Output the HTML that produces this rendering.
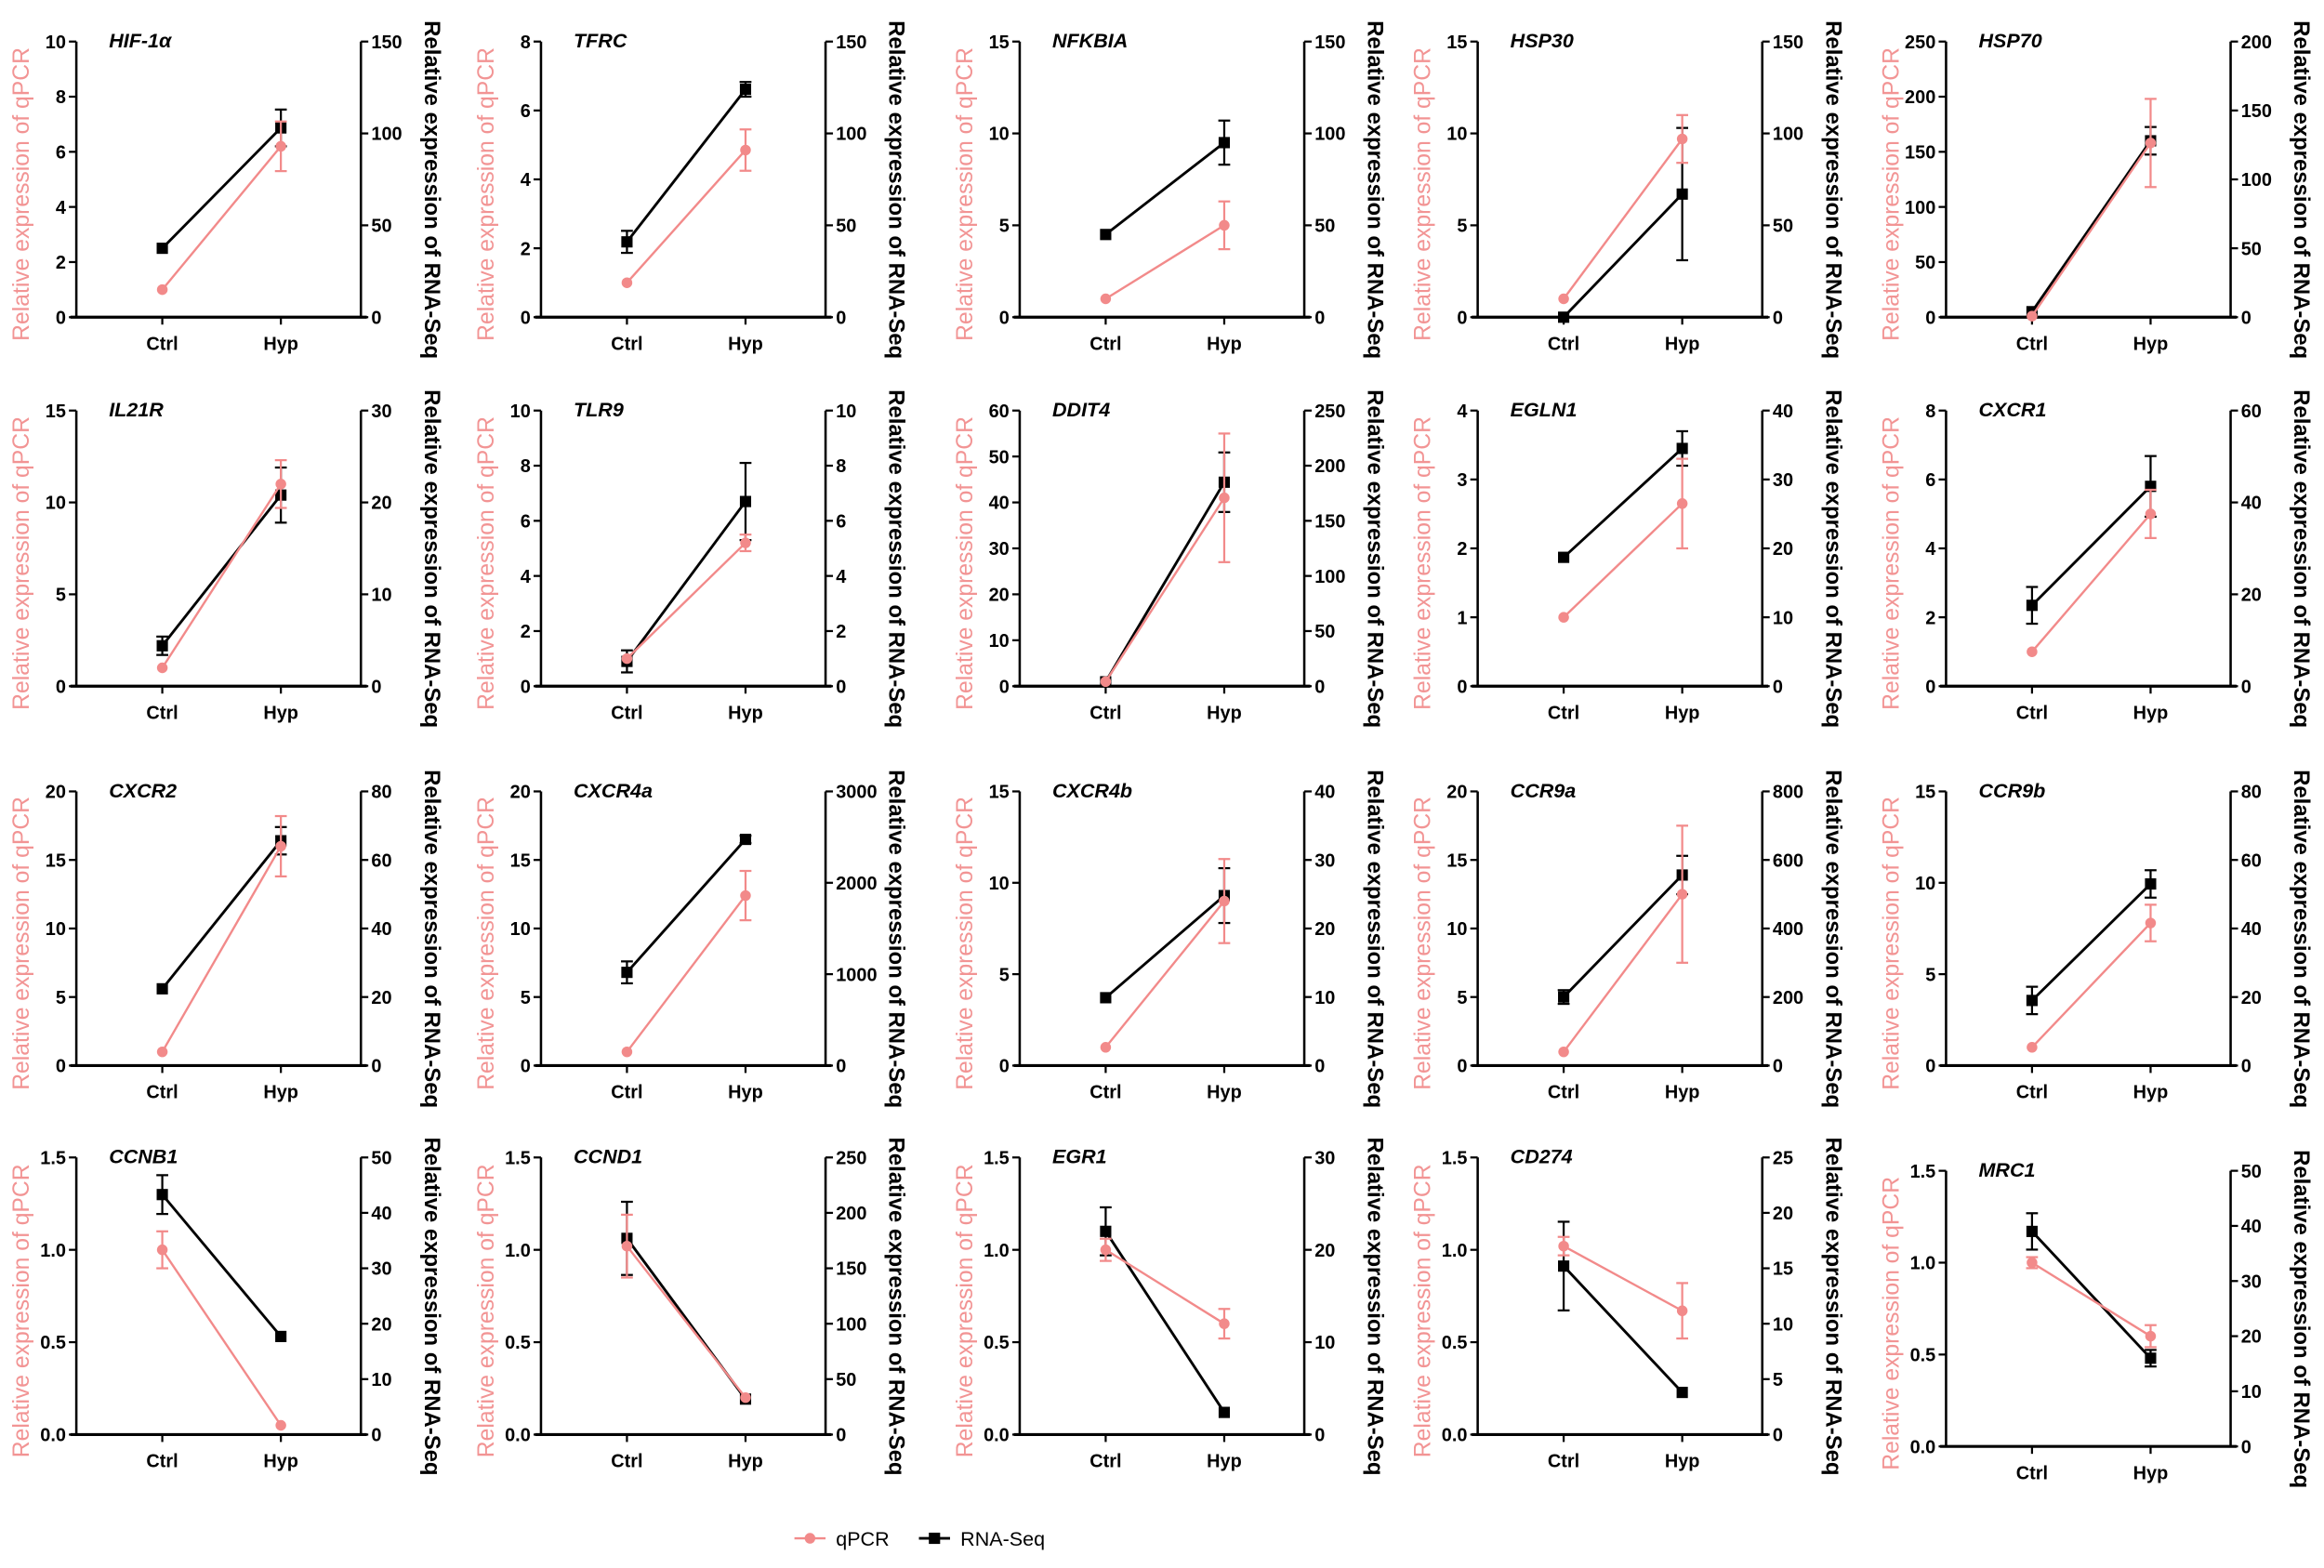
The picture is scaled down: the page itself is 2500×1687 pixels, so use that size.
<!DOCTYPE html>
<html><head><meta charset="utf-8"><style>
html,body{margin:0;padding:0;background:#fff}
svg{display:block}
text{font-family:"Liberation Sans",Arial,sans-serif}
</style></head><body>
<svg id="s" width="2500" height="1687" viewBox="0 0 1568 1058" xmlns="http://www.w3.org/2000/svg"></svg>
<script>
var P=[
["HIF-1α",10,2,150,50,[1,0],[6.2,0.9],[37.5,0],[103,10]],
["TFRC",8,2,150,50,[1,0],[4.85,0.6],[41,6],[124,4]],
["NFKBIA",15,5,150,50,[1,0],[5,1.3],[45,0],[95,12]],
["HSP30",15,5,150,50,[1,0],[9.7,1.3],[0,0],[67,36]],
["HSP70",250,50,200,50,[1,0],[158,40],[4,0],[128,10]],
["IL21R",15,5,30,10,[1,0],[11,1.3],[4.4,1],[20.8,3]],
["TLR9",10,2,10,2,[1,0],[5.2,0.3],[0.9,0.4],[6.7,1.4]],
["DDIT4",60,10,250,50,[1,0],[41,14],[4,0],[185,27]],
["EGLN1",4,1,40,10,[1,0],[2.65,0.65],[18.7,0],[34.5,2.5]],
["CXCR1",8,2,60,20,[1,0],[5,0.7],[17.6,4],[43.5,6.6]],
["CXCR2",20,5,80,20,[1,0],[16,2.2],[22.4,0],[65.6,4]],
["CXCR4a",20,5,3000,1000,[1,0],[12.4,1.8],[1020,120],[2475,40]],
["CXCR4b",15,5,40,10,[1,0],[9,2.3],[9.9,0],[24.8,4]],
["CCR9a",20,5,800,200,[1,0],[12.5,5],[200,20],[556,56]],
["CCR9b",15,5,80,20,[1,0],[7.8,1],[19,4],[53,4]],
["CCNB1",1.5,0.5,50,10,[1,0.1],[0.05,0],[43.3,3.5],[17.7,0]],
["CCND1",1.5,0.5,250,50,[1.02,0.17],[0.2,0],[177,33],[32,0]],
["EGR1",1.5,0.5,30,10,[1,0.06],[0.6,0.08],[22,2.6],[2.4,0]],
["CD274",1.5,0.5,25,5,[1.02,0.05],[0.67,0.15],[15.2,4],[3.8,0]],
["MRC1",1.5,0.5,50,10,[1,0.03],[0.6,0.06],[39,3.3],[16,1.5]]
];
var LX=[51.5,365,688,997,1313],ROWS=[[28,214],[277,463],[534,719],[781,968]];
var PK="#f28a8a",s="";
function fmt(v,st){return st<1?v.toFixed(1):String(v);}
for(var i=0;i<20;i++){
 var p=P[i],c=i%5,r=Math.floor(i/5),L=LX[c],R=L+192,T=ROWS[r][0],B=ROWS[r][1];
 if(i==19){T+=9;B+=8;}
 var H=B-T,cx=L+58,hx=L+138;
 function yl(v){return B-v/p[1]*H;} function yr(v){return B-v/p[3]*H;}
 s+='<line x1="'+L+'" y1="'+T+'" x2="'+L+'" y2="'+B+'" stroke="#000" stroke-width="1.6"/>';
 s+='<line x1="'+R+'" y1="'+T+'" x2="'+R+'" y2="'+B+'" stroke="#000" stroke-width="1.6"/>';
 s+='<line x1="'+(L-4)+'" y1="'+B+'" x2="'+(R+4)+'" y2="'+B+'" stroke="#000" stroke-width="2"/>';
 [cx,hx].forEach(function(x){s+='<line x1="'+x+'" y1="'+B+'" x2="'+x+'" y2="'+(B+5)+'" stroke="#000" stroke-width="1.4"/>';});
 s+='<text x="'+cx+'" y="'+(B+22)+'" font-size="12.5" font-weight="bold" text-anchor="middle">Ctrl</text>';
 s+='<text x="'+hx+'" y="'+(B+22)+'" font-size="12.5" font-weight="bold" text-anchor="middle">Hyp</text>';
 for(var v=0;v<=p[1]+1e-9;v+=p[2]){var y=yl(v);
  s+='<line x1="'+(L-5)+'" y1="'+y+'" x2="'+L+'" y2="'+y+'" stroke="#000" stroke-width="1.4"/>';
  s+='<text x="'+(L-7)+'" y="'+(y+4.5)+'" font-size="12.5" font-weight="bold" text-anchor="end">'+fmt(v,p[2])+'</text>';}
 for(var v=0;v<=p[3]+1e-9;v+=p[4]){var y=yr(v);
  s+='<line x1="'+R+'" y1="'+y+'" x2="'+(R+5)+'" y2="'+y+'" stroke="#000" stroke-width="1.4"/>';
  s+='<text x="'+(R+7)+'" y="'+(y+4.5)+'" font-size="12.5" font-weight="bold">'+v+'</text>';}
 s+='<text x="'+(L+22)+'" y="'+(T+4)+'" font-size="13.5" font-weight="bold" font-style="italic">'+p[0]+'</text>';
 var my=(T+B)/2+10;
 s+='<text transform="translate('+(L-32)+','+my+') rotate(-90)" font-size="15.5" fill="#f29494" text-anchor="middle">Relative expression of qPCR</text>';
 s+='<text transform="translate('+(R+43)+','+(my-3)+') rotate(90)" font-size="15" font-weight="bold" text-anchor="middle">Relative expression of RNA-Seq</text>';
 function ser(a,b,f,col,sq){
  var y1=f(a[0]),y2=f(b[0]);
  s+='<line x1="'+cx+'" y1="'+y1+'" x2="'+hx+'" y2="'+y2+'" stroke="'+col+'" stroke-width="'+(sq?1.8:1.5)+'"/>';
  [[cx,a],[hx,b]].forEach(function(q){var x=q[0],m=q[1];
   if(m[1]>0){var ya=f(m[0]+m[1]),yb=f(Math.max(0,m[0]-m[1]));
    s+='<line x1="'+x+'" y1="'+ya+'" x2="'+x+'" y2="'+yb+'" stroke="'+col+'" stroke-width="1.4"/>';
    s+='<line x1="'+(x-4)+'" y1="'+ya+'" x2="'+(x+4)+'" y2="'+ya+'" stroke="'+col+'" stroke-width="1.4"/>';
    s+='<line x1="'+(x-4)+'" y1="'+yb+'" x2="'+(x+4)+'" y2="'+yb+'" stroke="'+col+'" stroke-width="1.4"/>';}
   var y=f(m[0]);
   if(sq)s+='<rect x="'+(x-3.8)+'" y="'+(y-3.8)+'" width="7.6" height="7.6" fill="#000"/>';
   else s+='<circle cx="'+x+'" cy="'+y+'" r="3.6" fill="'+col+'"/>';});
 }
 ser(p[7],p[8],yr,"#000",true);
 ser(p[5],p[6],yl,PK,false);
}
s+='<line x1="536" y1="1038" x2="557" y2="1038" stroke="'+PK+'" stroke-width="1.5"/><circle cx="546.5" cy="1038" r="3.6" fill="'+PK+'"/>';
s+='<text x="564" y="1043" font-size="13.5">qPCR</text>';
s+='<line x1="620" y1="1038" x2="641" y2="1038" stroke="#000" stroke-width="1.8"/><rect x="626.7" y="1034.2" width="7.6" height="7.6" fill="#000"/>';
s+='<text x="648" y="1043" font-size="13.5">RNA-Seq</text>';
document.getElementById("s").innerHTML=s;
</script>
</body></html>
